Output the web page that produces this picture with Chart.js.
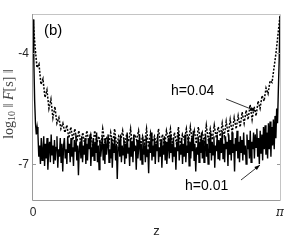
<!DOCTYPE html>
<html>
<head>
<meta charset="utf-8">
<script src="https://cdn.jsdelivr.net/npm/chart.js@4/dist/chart.umd.min.js"></script>
<style>
  html, body { margin: 0; padding: 0; background: #fff; }
  #wrap { width: 284px; height: 240px; position: relative; }
</style>
</head>
<body>
<div id="wrap"><canvas id="chart"></canvas></div>
<script>
// log10 ||F[s]|| for h = 0.01 (solid), sampled evenly over z in [0, pi]
const smallStep = [
  -3.1, -4.2, -5.3, -5.9, -6.2, -6.0,
  -6.2, -6.8, -6.5, -7.0, -6.3, -6.9, -6.6, -6.25, -7.05, -6.45, -6.85, -6.3, -7.15, -6.6, -6.4, -6.95, -6.2, -6.75, -6.5, -7.0,
  -6.35, -6.9, -6.55, -6.25, -7.1, -6.6, -6.8, -6.3, -6.95, -6.45, -7.2, -6.5, -6.3, -6.85, -6.6, -7.0, -6.25, -6.7, -6.45, -6.95,
  -6.3, -6.8, -6.55, -7.05, -6.35, -6.65, -6.2, -6.9, -6.5, -7.3, -6.6, -6.4, -6.85, -6.25, -6.95, -6.5, -6.75, -6.3, -7.0, -6.45,
  -6.9, -6.35, -6.6, -6.2, -7.05, -6.55, -6.8, -6.3, -6.9, -6.4, -6.7, -6.15, -6.95, -6.5, -7.15, -6.35, -6.8, -6.55, -6.25, -6.9,
  -6.45, -7.0, -6.3, -6.75, -6.5, -6.2, -6.95, -6.6, -6.85, -6.3, -7.1, -6.45, -6.7, -6.25, -6.9, -6.5, -7.4, -6.55, -6.35, -6.8,
  -6.2, -6.95, -6.5, -6.75, -6.3, -7.0, -6.45, -6.85, -6.15, -6.7, -6.55, -7.05, -6.3, -6.8, -6.4, -6.95, -6.2, -6.65, -6.5, -7.15,
  -6.35, -6.85, -6.55, -6.2, -6.9, -6.45, -7.0, -6.3, -6.75, -6.5, -6.95, -6.25, -6.8, -6.6, -7.25, -6.4, -6.7, -6.15, -6.9, -6.5,
  -6.8, -6.3, -7.0, -6.45, -6.65, -6.2, -6.95, -6.55, -6.8, -6.35, -7.1, -6.5, -6.75, -6.25, -6.9, -6.4, -7.0, -6.6, -6.3, -6.85,
  -6.2, -6.7, -6.45, -6.95, -6.3, -6.8, -6.55, -7.15, -6.4, -6.65, -6.15, -6.9, -6.5, -6.75, -6.3, -7.0, -6.45, -6.8, -6.2, -6.95,
  -6.5, -6.7, -6.25, -7.05, -6.4, -6.85, -6.3, -6.65, -6.1, -6.9, -6.45, -7.2, -6.55, -6.75, -6.25, -6.95, -6.4, -6.7, -6.15, -6.85,
  -6.35, -6.95, -6.5, -6.2, -6.8, -6.45, -7.0, -6.3, -6.7, -6.15, -6.9, -6.4, -6.75, -6.25, -7.1, -6.5, -6.65, -6.2, -6.85, -6.35,
  -6.9, -6.3, -6.7, -6.1, -6.85, -6.45, -6.95, -6.25, -6.6, -6.4, -7.05, -6.2, -6.75, -6.35, -6.9, -6.15, -6.7, -6.45, -7.2, -6.3,
  -6.65, -6.1, -6.85, -6.4, -6.95, -6.25, -6.7, -6.35, -6.9, -6.15, -6.75, -6.5, -7.0, -6.2, -6.6, -6.35, -6.85, -6.1, -6.95, -6.4,
  -6.6, -6.15, -6.85, -6.2, -6.55, -6.05, -6.8, -6.3, -7.0, -6.1, -6.7, -6.2, -6.9, -6.0, -6.6, -5.95, -6.75, -6.15, -6.85, -5.9,
  -6.6, -5.85, -6.8, -6.0,
  -6.5, -5.8, -6.6, -5.7, -6.3, -5.5, -5.9, -5.0, -4.2, -3.0
];

// log10 ||F[s]|| for h = 0.04 (dashed)
const largeStep = [
  -3.1, -3.8, -4.4, -4.3, -4.85, -4.7, -5.2, -5.0, -5.5, -5.25,
  -5.75, -5.45, -5.9, -5.75, -6.05, -5.9, -6.15, -5.95, -6.3, -6.0,
  -6.35, -6.05, -6.4, -6.1, -6.45, -6.15, -6.5, -6.1, -6.4, -6.2,
  -6.5, -6.1, -6.45, -6.25, -6.55, -6.05, -6.4, -6.3, -6.5, -6.15,
  -6.45, -6.05, -6.55, -6.25, -6.35, -6.1, -6.5, -6.2, -6.4, -6.05,
  -6.55, -6.2, -6.35, -6.1, -6.5, -6.25, -6.45, -6.05, -6.55, -6.15,
  -6.4, -6.25, -6.5, -6.05, -6.45, -6.2, -6.55, -6.1, -6.35, -6.05,
  -6.5, -6.15, -6.45, -6.0, -6.5, -6.2, -6.35, -6.05, -6.45, -6.0,
  -6.4, -6.1, -6.45, -6.0, -6.35, -6.15, -6.4, -5.95, -6.35, -6.05,
  -6.35, -5.95, -6.3, -6.0, -6.25, -5.9, -6.25, -5.85, -6.2, -5.8,
  -6.15, -5.75, -6.05, -5.7, -6.0, -5.6, -5.9, -5.55, -5.8, -5.4,
  -5.8, -5.45, -5.7, -5.3, -5.5, -5.15, -5.3, -4.95, -5.1, -4.75,
  -4.8, -4.4, -4.0, -3.5, -3.0
];

const yTicks = [-7, -4];
const xTicks = [0, Math.PI];
const xTickLabels = ['0', 'π'];

// even sampling grid over [0, pi]
const toPoints = vals => vals.map((v, i) => ({ x: i / (vals.length - 1) * Math.PI, y: v }));

const axisColor = '#9a9a9a';
const textColor = '#262626';

// draws the MATLAB-style box, inner ticks, labels and annotations
const decorations = {
  id: 'decorations',
  afterDatasetsDraw(chart) {
    const { ctx, chartArea: a, scales: { x, y } } = chart;
    ctx.save();

    // box
    ctx.strokeStyle = '#c4c4c4';
    ctx.lineWidth = 1;
    ctx.beginPath();
    ctx.moveTo(a.left, a.top + 0.5);
    ctx.lineTo(a.right + 0.5, a.top + 0.5);
    ctx.lineTo(a.right + 0.5, a.bottom);
    ctx.stroke();
    ctx.strokeStyle = axisColor;
    ctx.beginPath();
    ctx.moveTo(a.left - 0.5, a.top);
    ctx.lineTo(a.left - 0.5, a.bottom + 0.5);
    ctx.lineTo(a.right + 0.5, a.bottom + 0.5);
    ctx.stroke();

    // y ticks (inside, both sides)
    ctx.font = '12px "Liberation Sans", Arial, sans-serif';
    ctx.fillStyle = textColor;
    ctx.textAlign = 'right';
    ctx.textBaseline = 'middle';
    yTicks.forEach(v => {
      const py = Math.round(y.getPixelForValue(v)) + 0.5;
      ctx.beginPath();
      ctx.moveTo(a.left, py); ctx.lineTo(a.left + 3, py);
      ctx.moveTo(a.right, py); ctx.lineTo(a.right - 3, py);
      ctx.stroke();
      ctx.fillText(String(v), a.left - 4, py);
    });

    // x tick labels
    ctx.textAlign = 'center';
    ctx.textBaseline = 'top';
    xTicks.forEach((v, i) => {
      const px = x.getPixelForValue(v);
      if (xTickLabels[i] === 'π') {
        ctx.font = 'italic 12px "DejaVu Serif", serif';
      } else {
        ctx.font = '12px "Liberation Sans", Arial, sans-serif';
      }
      ctx.fillText(xTickLabels[i], px, a.bottom + 7);
    });

    // x axis title
    ctx.font = '13px "Liberation Sans", Arial, sans-serif';
    ctx.fillText('z', (a.left + a.right) / 2, a.bottom + 25);

    // y axis title: log10 ||F[s]||
    ctx.save();
    ctx.translate(9, 104);
    ctx.rotate(-Math.PI / 2);
    ctx.textBaseline = 'middle';
    ctx.textAlign = 'left';
    ctx.fillStyle = '#404040';
    const parts = [
      ['log', '14px "Liberation Serif", serif', 0],
      ['10', '10px "Liberation Serif", serif', 3],
      [' ‖ ', '14px "Liberation Serif", serif', 0],
      ['F', 'italic 14px "Liberation Serif", serif', 0],
      ['[s]', '14px "Liberation Serif", serif', 0],
      [' ‖', '14px "Liberation Serif", serif', 0]
    ];
    let total = 0;
    parts.forEach(([t, f]) => { ctx.font = f; total += ctx.measureText(t).width; });
    let cx = -total / 2;
    parts.forEach(([t, f, dy]) => {
      ctx.font = f;
      ctx.fillText(t, cx, dy);
      cx += ctx.measureText(t).width;
    });
    ctx.restore();

    // panel label
    ctx.font = '15px "Liberation Sans", Arial, sans-serif';
    ctx.textAlign = 'left';
    ctx.textBaseline = 'middle';
    ctx.fillStyle = '#000';
    ctx.fillText('(b)', 44, 31);

    // annotations with arrows
    const arrow = (x1, y1, x2, y2) => {
      ctx.strokeStyle = '#000';
      ctx.lineWidth = 0.8;
      ctx.beginPath();
      ctx.moveTo(x1, y1); ctx.lineTo(x2, y2);
      ctx.stroke();
      const ang = Math.atan2(y2 - y1, x2 - x1);
      ctx.beginPath();
      ctx.moveTo(x2, y2);
      ctx.lineTo(x2 - 6 * Math.cos(ang - 0.35), y2 - 6 * Math.sin(ang - 0.35));
      ctx.lineTo(x2 - 6 * Math.cos(ang + 0.35), y2 - 6 * Math.sin(ang + 0.35));
      ctx.closePath();
      ctx.fillStyle = '#000';
      ctx.fill();
    };
    ctx.font = '14px "Liberation Sans", Arial, sans-serif';
    ctx.fillStyle = '#000';
    ctx.fillText('h=0.04', 171, 91);
    arrow(226, 99, 256, 111);
    ctx.fillStyle = '#000';
    ctx.fillText('h=0.01', 185, 186);
    arrow(241, 180, 260, 165);

    ctx.restore();
  }
};

new Chart(document.getElementById('chart'), {
  type: 'line',
  data: {
    datasets: [
      {
        label: 'h=0.01',
        data: toPoints(smallStep),
        borderColor: '#000',
        borderWidth: 1.4,
        pointRadius: 0,
        tension: 0
      },
      {
        label: 'h=0.04',
        data: toPoints(largeStep),
        borderColor: '#000',
        borderWidth: 1.5,
        borderDash: [2, 1.5],
        pointRadius: 0,
        tension: 0
      }
    ]
  },
  options: {
    responsive: true,
    maintainAspectRatio: false,
    animation: false,
    layout: { padding: { left: 33, top: 14, right: 4, bottom: 40 } },
    plugins: {
      legend: { display: false },
      tooltip: { enabled: false }
    },
    scales: {
      x: { type: 'linear', min: 0, max: Math.PI, display: false },
      y: { min: -7.97, max: -2.95, display: false }
    }
  },
  plugins: [decorations]
});
</script>
</body>
</html>
